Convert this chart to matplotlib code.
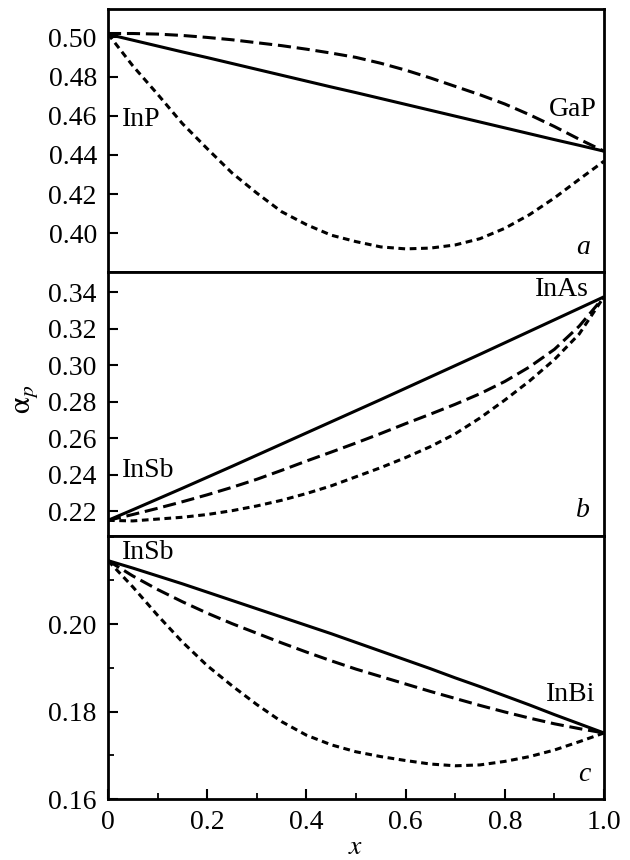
import numpy as np
import matplotlib
matplotlib.use("Agg")
import matplotlib.pyplot as plt
from matplotlib.ticker import MultipleLocator, FixedLocator

plt.rcParams['font.family'] = ['Liberation Serif', 'DejaVu Serif']
plt.rcParams['mathtext.fontset'] = 'stix'

# composition x, common grid for all curves
x = [0.00, 0.05, 0.10, 0.15, 0.20, 0.25, 0.30, 0.35, 0.40, 0.45, 0.50,
     0.55, 0.60, 0.65, 0.70, 0.75, 0.80, 0.85, 0.90, 0.95, 1.00]

# (a) InP - GaP
a_solid = [0.5016, 0.4986, 0.4956, 0.4926, 0.4897, 0.4867, 0.4837, 0.4807, 0.4777, 0.4747, 0.4718,
           0.4688, 0.4658, 0.4628, 0.4598, 0.4568, 0.4538, 0.4508, 0.4478, 0.4449, 0.4419]
a_dash = [0.5020, 0.5020, 0.5017, 0.5010, 0.5000, 0.4988, 0.4973, 0.4958, 0.4940, 0.4920, 0.4898,
          0.4868, 0.4833, 0.4793, 0.4750, 0.4707, 0.4660, 0.4605, 0.4545, 0.4480, 0.4419]
a_dot = [0.5018, 0.4855, 0.4710, 0.4560, 0.4432, 0.4308, 0.4205, 0.4110, 0.4044, 0.3990, 0.3957,
         0.3930, 0.3920, 0.3924, 0.3940, 0.3972, 0.4025, 0.4095, 0.4180, 0.4275, 0.4368]

# (b) InSb - InAs
b_solid = [0.2151, 0.2209, 0.2268, 0.2327, 0.2387, 0.2447, 0.2508, 0.2569, 0.2630, 0.2691, 0.2752,
           0.2813, 0.2875, 0.2937, 0.2999, 0.3061, 0.3124, 0.3187, 0.3250, 0.3313, 0.3376]
b_dash = [0.2151, 0.2183, 0.2217, 0.2253, 0.2291, 0.2332, 0.2376, 0.2425, 0.2476, 0.2525, 0.2575,
          0.2627, 0.2681, 0.2733, 0.2787, 0.2845, 0.2912, 0.2992, 0.3088, 0.3215, 0.3376]
b_dot = [0.2151, 0.2148, 0.2158, 0.2168, 0.2183, 0.2204, 0.2230, 0.2261, 0.2298, 0.2340, 0.2390,
         0.2440, 0.2495, 0.2555, 0.2625, 0.2712, 0.2810, 0.2915, 0.3032, 0.3172, 0.3376]

# (c) InSb - InBi
c_solid = [0.2145, 0.2128, 0.2110, 0.2092, 0.2073, 0.2054, 0.2035, 0.2016, 0.1997, 0.1978, 0.1958,
           0.1938, 0.1918, 0.1898, 0.1877, 0.1857, 0.1836, 0.1815, 0.1793, 0.1772, 0.1751]
c_dash = [0.2145, 0.2110, 0.2079, 0.2051, 0.2025, 0.2001, 0.1979, 0.1957, 0.1936, 0.1916, 0.1897,
          0.1880, 0.1863, 0.1846, 0.1830, 0.1814, 0.1799, 0.1785, 0.1772, 0.1761, 0.1751]
c_dot = [0.2145, 0.2085, 0.2020, 0.1959, 0.1905, 0.1859, 0.1816, 0.1777, 0.1746, 0.1724, 0.1708,
         0.1697, 0.1688, 0.1680, 0.1676, 0.1678, 0.1686, 0.1697, 0.1712, 0.1731, 0.1751]

x_ticks = [0, 0.2, 0.4, 0.6, 0.8, 1.0]
x_ticklabels = ['0', '0.2', '0.4', '0.6', '0.8', '1.0']

panels = [
    dict(curves=(a_solid, a_dash, a_dot), ylim=(0.380, 0.5145),
         yticks=[0.40, 0.42, 0.44, 0.46, 0.48, 0.50], minor=None,
         left=('InP', 0.458), right=('GaP', 0.463, 0.986), letter=('a', 0.3926)),
    dict(curves=(b_solid, b_dash, b_dot), ylim=(0.2067, 0.351),
         yticks=[0.22, 0.24, 0.26, 0.28, 0.30, 0.32, 0.34], minor=None,
         left=('InSb', 0.2426), right=('InAs', 0.3417, 0.970), letter=('b', 0.2205)),
    dict(curves=(c_solid, c_dash, c_dot), ylim=(0.16, 0.2202),
         yticks=[0.16, 0.18, 0.20], minor=0.01,
         left=('InSb', 0.2164), right=('InBi', 0.184, 0.982), letter=('c', 0.1656)),
]

fig, axes = plt.subplots(3, 1, figsize=(6.3, 8.6), dpi=100, sharex=True)
fig.subplots_adjust(left=0.1714, right=0.9587, top=0.9895, bottom=0.0709, hspace=0)

fs = 20
for i, (ax, p) in enumerate(zip(axes, panels)):
    s, d, dt = p['curves']
    ax.plot(x, s, color='black', lw=2.2, solid_capstyle='butt')
    ax.plot(x, d, color='black', lw=2.2, dashes=(4.3, 1.9))
    ax.plot(x, dt, color='black', lw=2.2, dashes=(2.2, 1.5))
    ax.set_xlim(0, 1.0)
    ax.set_ylim(*p['ylim'])
    ax.yaxis.set_major_locator(FixedLocator(p['yticks']))
    ax.set_yticklabels(['%.2f' % t for t in p['yticks']])
    if p['minor']:
        ax.yaxis.set_minor_locator(MultipleLocator(p['minor']))
    for sp in ax.spines.values():
        sp.set_linewidth(2.0)
    ax.tick_params(axis='y', which='major', direction='in', length=7, width=1.5,
                   labelsize=fs, pad=8)
    ax.tick_params(axis='y', which='minor', direction='in', length=4, width=1.3)
    if i < 2:
        ax.tick_params(axis='x', which='both', bottom=False, labelbottom=False)
    # labels of the binary end points and panel letters
    ax.text(0.028, p['left'][1], p['left'][0], fontsize=fs, va='center', ha='left',
            transform=ax.get_yaxis_transform())
    ax.text(p['right'][2], p['right'][1], p['right'][0], fontsize=fs, va='center', ha='right',
            transform=ax.get_yaxis_transform())
    ax.text(0.972, p['letter'][1], p['letter'][0], fontsize=fs, va='center', ha='right',
            style='italic', transform=ax.get_yaxis_transform())

axc = axes[2]
axc.set_xticks(x_ticks)
axc.set_xticklabels(x_ticklabels)
axc.xaxis.set_minor_locator(MultipleLocator(0.1))
axc.tick_params(axis='x', which='major', direction='in', length=7, width=1.5,
                labelsize=fs, pad=8)
axc.tick_params(axis='x', which='minor', direction='in', length=4, width=1.3)
axc.set_xlabel('$x$', fontsize=fs, labelpad=0)

fig.text(0.040, 0.535, r'$\mathrm{\alpha}_p$', fontsize=fs + 2, rotation=90, ha='center', va='center')

fig.savefig('out.png', dpi=100)
